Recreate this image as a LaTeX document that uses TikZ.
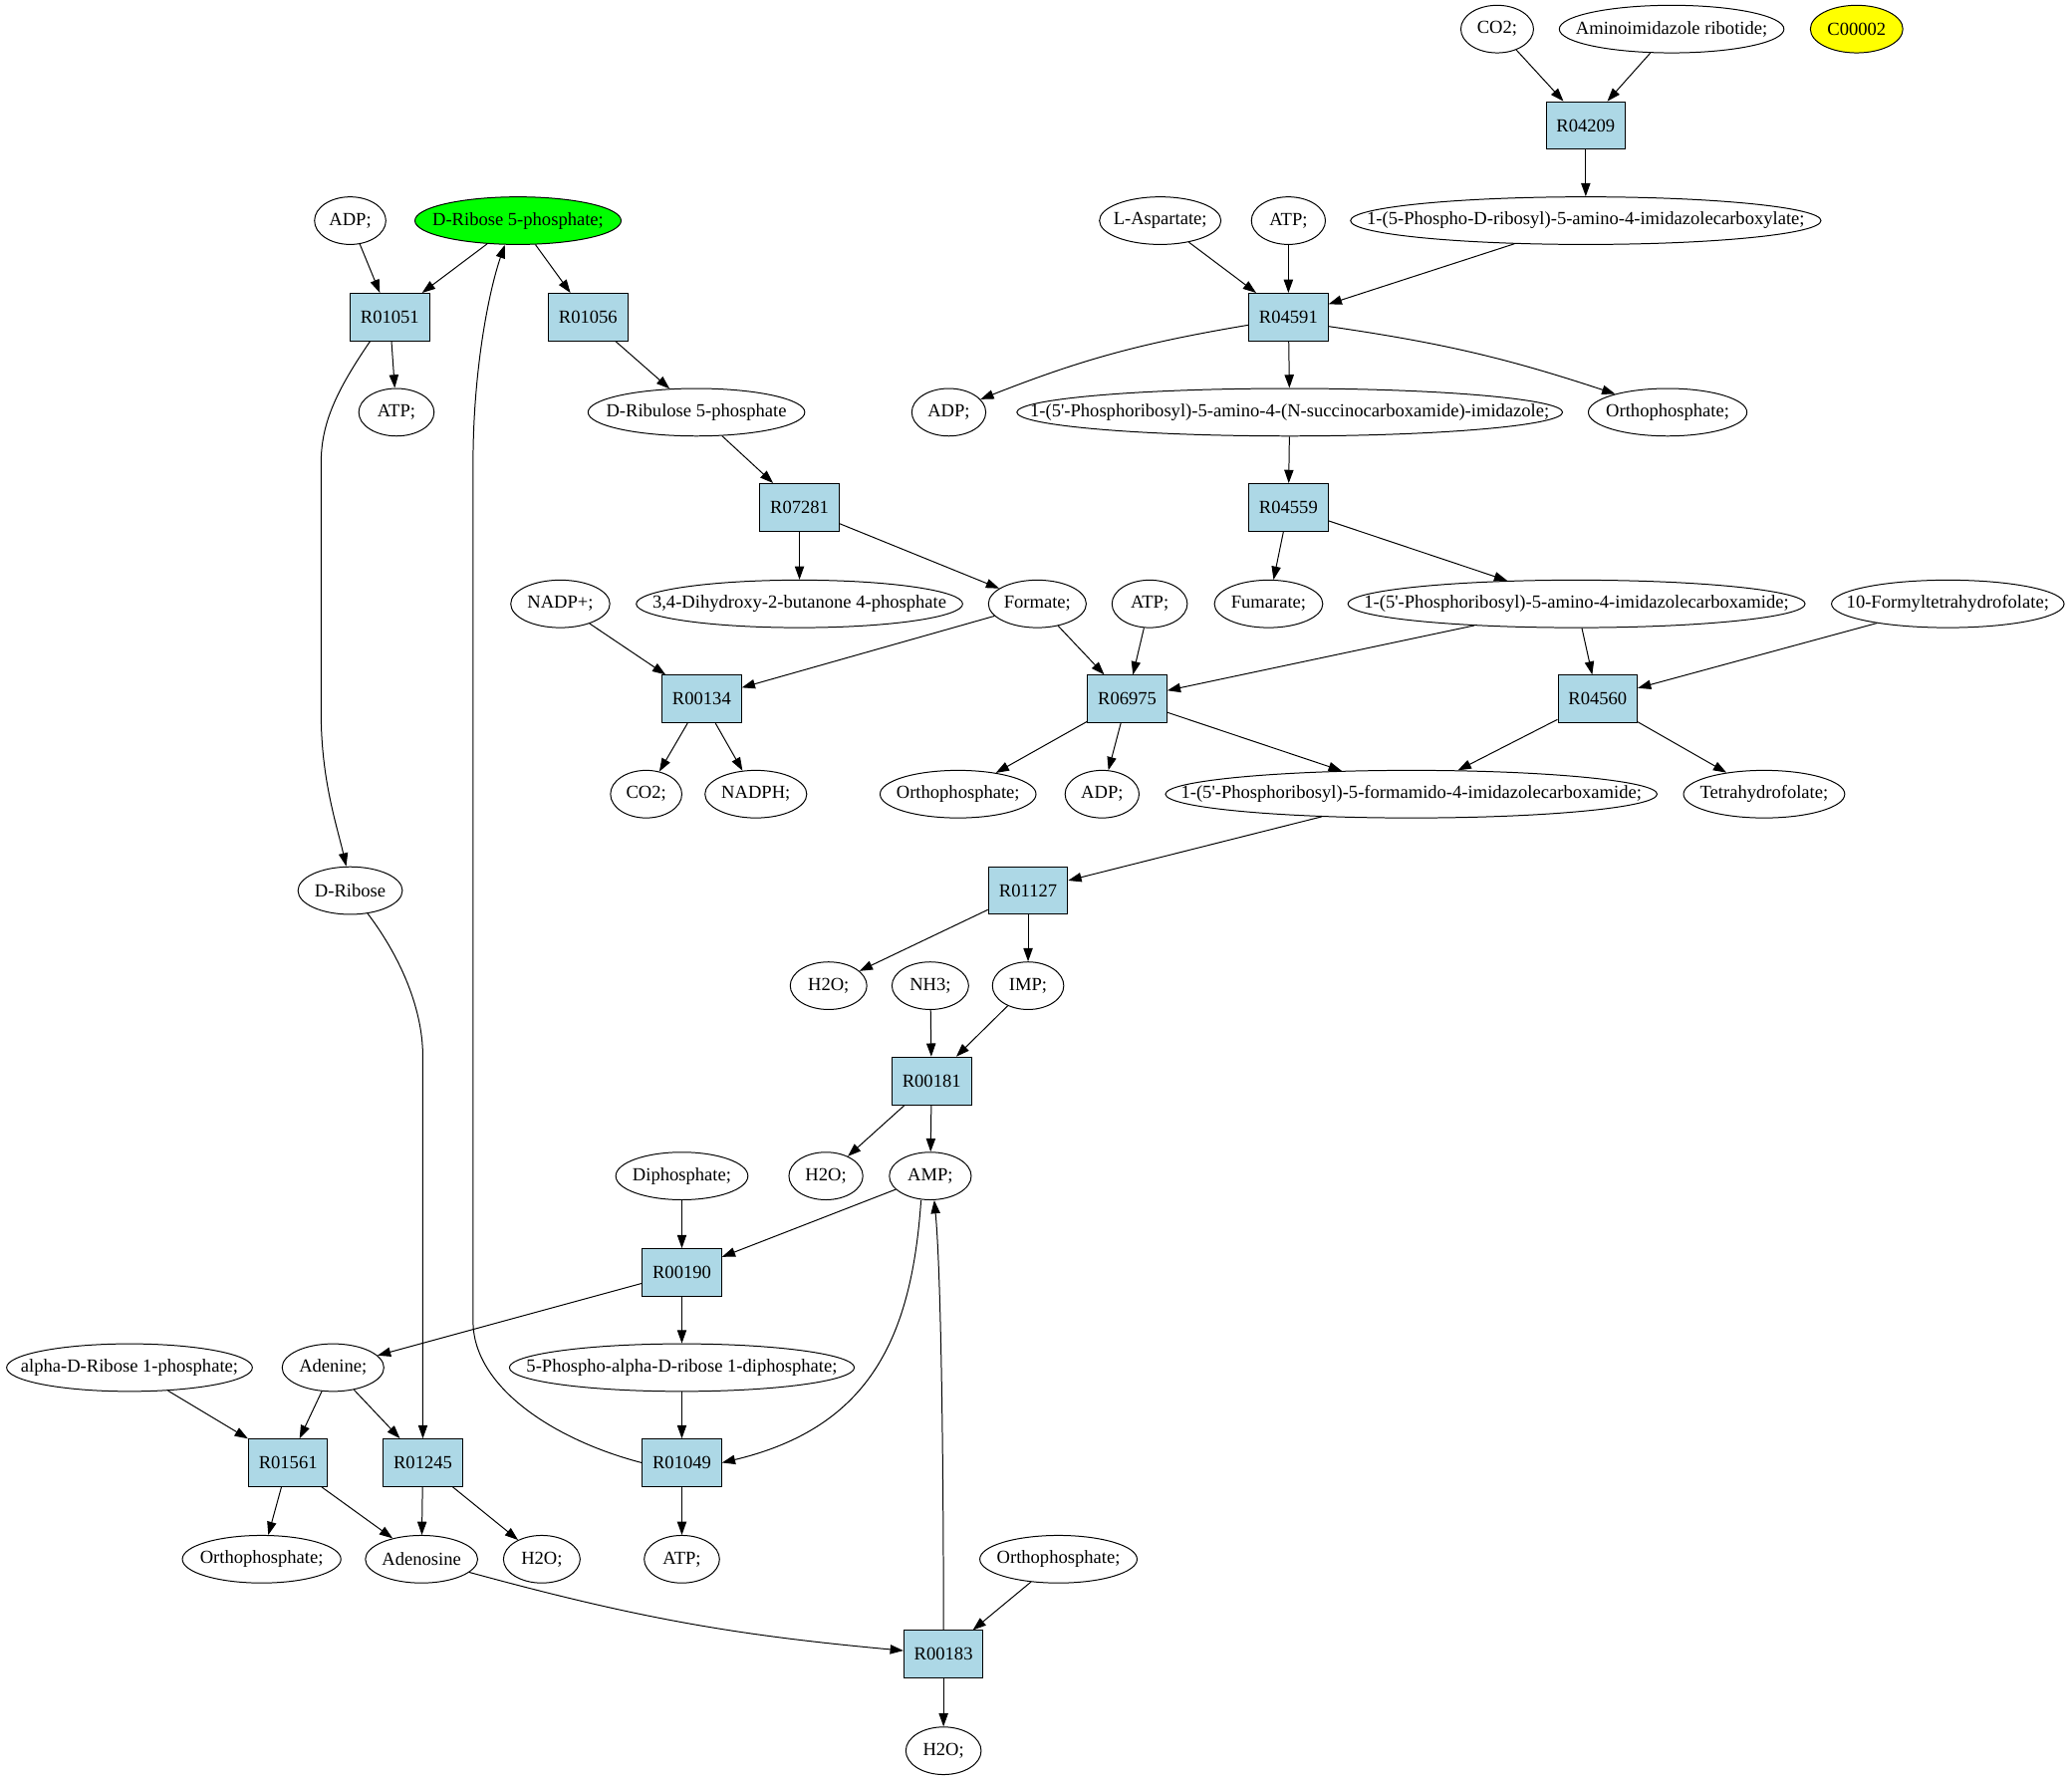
\documentclass[tikz,border=0pt]{standalone}
\usepackage{fontspec}
\setmainfont{Liberation Serif}
\usetikzlibrary{shapes.geometric,arrows.meta}
\definecolor{rxblue}{RGB}{173,216,230}
\definecolor{cgreen}{RGB}{0,255,0}
\definecolor{cyellow}{RGB}{255,255,0}
\newcommand\lbl[1]{\makebox[0pt]{#1}}
\begin{document}
\begin{tikzpicture}[x=1pt,y=-1pt,
  font=\fontsize{14}{16}\selectfont,
  line width=0.75pt,
  >={Triangle[length=10pt,width=7pt]},
  rxn/.style={rectangle, draw, fill=rxblue, minimum width=60pt, minimum height=36pt, inner sep=0pt},
  cpd/.style={ellipse, draw, inner sep=0pt, minimum height=36pt},
  conn/.style={->}]
\useasboundingbox (0,0) rectangle (1568,1347);
% ---------- compounds ----------
\node[cpd, minimum width=55pt] (co2a) at (1133,22) {\lbl{CO2;}};
\node[cpd, minimum width=170pt] (air) at (1265,22) {\lbl{Aminoimidazole ribotide;}};
\node[cpd, minimum width=70pt, fill=cyellow] (c00002) at (1405,22) {\lbl{C00002}};
\node[cpd, minimum width=54pt] (adp1) at (265,167) {\lbl{ADP;}};
\node[cpd, minimum width=156pt, fill=cgreen] (r5p) at (392,167) {\lbl{D-Ribose 5-phosphate;}};
\node[cpd, minimum width=92pt] (asp) at (878,167) {\lbl{L-Aspartate;}};
\node[cpd, minimum width=56pt] (atp1) at (975,167) {\lbl{ATP;}};
\node[cpd, minimum width=356pt] (cair) at (1200,167) {\lbl{1-(5-Phospho-D-ribosyl)-5-amino-4-imidazolecarboxylate;}};
\node[cpd, minimum width=57pt] (atp2) at (300,312) {\lbl{ATP;}};
\node[cpd, minimum width=164pt] (ru5p) at (527,312) {\lbl{D-Ribulose 5-phosphate}};
\node[cpd, minimum width=56pt] (adp2) at (718,312) {\lbl{ADP;}};
\node[cpd, minimum width=413pt] (saicar) at (976,312) {\lbl{1-(5\textquotesingle-Phosphoribosyl)-5-amino-4-(N-succinocarboxamide)-imidazole;}};
\node[cpd, minimum width=120pt] (pi1) at (1262,312) {\lbl{Orthophosphate;}};
\node[cpd, minimum width=75pt] (nadp) at (424,457) {\lbl{NADP+;}};
\node[cpd, minimum width=247pt] (dhbp) at (605,457) {\lbl{3,4-Dihydroxy-2-butanone 4-phosphate}};
\node[cpd, minimum width=74pt] (formate) at (785,457) {\lbl{Formate;}};
\node[cpd, minimum width=57pt] (atp3) at (870,457) {\lbl{ATP;}};
\node[cpd, minimum width=82pt] (fum) at (960,457) {\lbl{Fumarate;}};
\node[cpd, minimum width=346pt] (aicar) at (1193,457) {\lbl{1-(5\textquotesingle-Phosphoribosyl)-5-amino-4-imidazolecarboxamide;}};
\node[cpd, minimum width=176pt] (fthf) at (1474,457) {\lbl{10-Formyltetrahydrofolate;}};
\node[cpd, minimum width=54pt] (co2b) at (489,601) {\lbl{CO2;}};
\node[cpd, minimum width=77pt] (nadph) at (572,601) {\lbl{NADPH;}};
\node[cpd, minimum width=118pt] (pi2) at (725,601) {\lbl{Orthophosphate;}};
\node[cpd, minimum width=56pt] (adp3) at (834,601) {\lbl{ADP;}};
\node[cpd, minimum width=372pt] (faicar) at (1068,601) {\lbl{1-(5\textquotesingle-Phosphoribosyl)-5-formamido-4-imidazolecarboxamide;}};
\node[cpd, minimum width=122pt] (thf) at (1335,601) {\lbl{Tetrahydrofolate;}};
\node[cpd, minimum width=79pt] (drib) at (265,674) {\lbl{D-Ribose}};
\node[cpd, minimum width=58pt] (h2o1) at (627,746) {\lbl{H2O;}};
\node[cpd, minimum width=58pt] (nh3) at (704,746) {\lbl{NH3;}};
\node[cpd, minimum width=54pt] (imp) at (778,746) {\lbl{IMP;}};
\node[cpd, minimum width=100pt] (ppi) at (516,890) {\lbl{Diphosphate;}};
\node[cpd, minimum width=56pt] (h2o2) at (625,890) {\lbl{H2O;}};
\node[cpd, minimum width=62pt] (amp) at (704,890) {\lbl{AMP;}};
\node[cpd, minimum width=186pt] (r1p) at (98,1035) {\lbl{alpha-D-Ribose 1-phosphate;}};
\node[cpd, minimum width=77pt] (ade) at (252,1035) {\lbl{Adenine;}};
\node[cpd, minimum width=261pt] (prpp) at (516,1035) {\lbl{5-Phospho-alpha-D-ribose 1-diphosphate;}};
\node[cpd, minimum width=120pt] (pi3) at (198,1180) {\lbl{Orthophosphate;}};
\node[cpd, minimum width=85pt] (ado) at (319,1180) {\lbl{Adenosine}};
\node[cpd, minimum width=58pt] (h2o3) at (410,1180) {\lbl{H2O;}};
\node[cpd, minimum width=57pt] (atp4) at (516,1180) {\lbl{ATP;}};
\node[cpd, minimum width=119pt] (pi4) at (801,1180) {\lbl{Orthophosphate;}};
\node[cpd, minimum width=57pt] (h2o4) at (714,1325) {\lbl{H2O;}};
% ---------- reactions ----------
\node[rxn] (r04209) at (1200,95) {R04209};
\node[rxn] (r01051) at (295,240) {R01051};
\node[rxn] (r01056) at (445,240) {R01056};
\node[rxn] (r04591) at (975,240) {R04591};
\node[rxn] (r07281) at (605,384) {R07281};
\node[rxn] (r04559) at (975,384) {R04559};
\node[rxn] (r00134) at (531,529) {R00134};
\node[rxn] (r06975) at (853,529) {R06975};
\node[rxn] (r04560) at (1209,529) {R04560};
\node[rxn] (r01127) at (778,674) {R01127};
\node[rxn] (r00181) at (705,818) {R00181};
\node[rxn] (r00190) at (516,963) {R00190};
\node[rxn] (r01561) at (218,1107) {R01561};
\node[rxn] (r01245) at (320,1107) {R01245};
\node[rxn] (r01049) at (516,1107) {R01049};
\node[rxn] (r00183) at (714,1252) {R00183};
% ---------- edges ----------
\draw[conn] (co2a) -- (r04209);
\draw[conn] (air) -- (r04209);
\draw[conn] (r04209) -- (cair);
\draw[conn] (adp1) -- (r01051);
\draw[conn] (r5p) -- (r01051);
\draw[conn] (r5p) -- (r01056);
\draw[conn] (r01051) -- (atp2);
\draw[conn] ([xshift=-15pt]r01051.south) .. controls (255,295) and (243,320) .. (243,350) -- (243,540) .. controls (243,590) and (255,625) .. ([xshift=-3pt]drib.north);
\draw[conn] (r01056) -- (ru5p);
\draw[conn] (ru5p) -- (r07281);
\draw[conn] (r07281) -- (dhbp);
\draw[conn] (r07281) -- (formate);
\draw[conn] (asp) -- (r04591);
\draw[conn] (atp1) -- (r04591);
\draw[conn] (cair) -- (r04591);
\draw[conn] ([yshift=-6pt]r04591.west) to[bend right=6] (adp2);
\draw[conn] (r04591) -- (saicar);
\draw[conn] ([yshift=-7pt]r04591.east) to[bend left=5] (pi1);
\draw[conn] (saicar) -- (r04559);
\draw[conn] (r04559) -- (fum);
\draw[conn] (r04559) -- (aicar);
\draw[conn] (nadp) -- (r00134);
\draw[conn] (formate) -- (r00134);
\draw[conn] (formate) -- (r06975);
\draw[conn] (atp3) -- (r06975);
\draw[conn] (aicar) -- (r06975);
\draw[conn] (aicar) -- (r04560);
\draw[conn] (fthf) -- (r04560);
\draw[conn] (r00134) -- (co2b);
\draw[conn] (r00134) -- (nadph);
\draw[conn] (r06975) -- (pi2);
\draw[conn] (r06975) -- (adp3);
\draw[conn] (r06975) -- (faicar);
\draw[conn] (r04560) -- (faicar);
\draw[conn] (r04560) -- (thf);
\draw[conn] (faicar) -- (r01127);
\draw[conn] (r01127) -- (h2o1);
\draw[conn] (r01127) -- (imp);
\draw[conn] (nh3) -- (r00181);
\draw[conn] (imp) -- (r00181);
\draw[conn] (r00181) -- (h2o2);
\draw[conn] (r00181) -- (amp);
\draw[conn] (ppi) -- (r00190);
\draw[conn] (amp) -- (r00190);
\draw[conn] (r00190) -- (ade);
\draw[conn] (r00190) -- (prpp);
\draw[conn] (prpp) -- (r01049);
\draw[conn] ([xshift=-7pt]amp.south) .. controls (690,1010) and (660,1080) .. (r01049.east);
\draw[conn] (r01049) -- (atp4);
\draw[conn] (r01049.west) .. controls (420,1090) and (358,1050) .. (358,1000) -- (358,350) .. controls (358,280) and (370,220) .. ([xshift=-10pt]r5p.south);
\draw[conn] (drib) .. controls (300,720) and (320,760) .. (320,800) -- (r01245.north);
\draw[conn] (r1p) -- (r01561);
\draw[conn] (ade) -- (r01561);
\draw[conn] (ade) -- (r01245);
\draw[conn] (r01561) -- (pi3);
\draw[conn] (r01561) -- (ado);
\draw[conn] (r01245) -- (ado);
\draw[conn] (r01245) -- (h2o3);
\draw[conn] (ado) to[bend right=5] (r00183);
\draw[conn] (pi4) -- (r00183);
\draw[conn] (r00183) -- (h2o4);
\draw[conn] (r00183.north) .. controls (714,1100) and (712,960) .. ([xshift=3pt]amp.south);
\end{tikzpicture}
\end{document}
